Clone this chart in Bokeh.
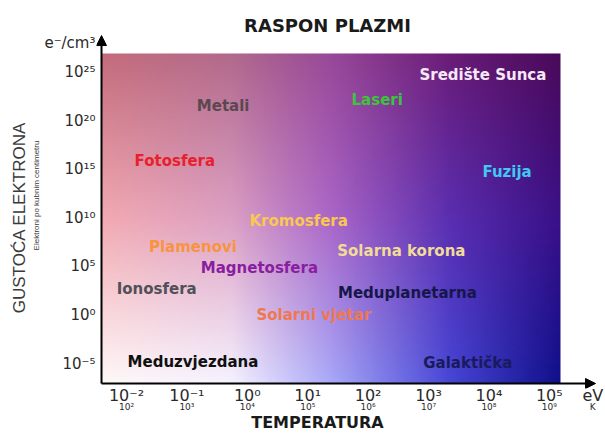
import numpy as np
from bokeh.plotting import figure
from bokeh.models import (Range1d, FixedTicker, LinearAxis, Arrow,
                          NormalHead, ColumnDataSource)
from bokeh.core.properties import value
from bokeh.embed import file_html
from bokeh.resources import INLINE

# ---------------- data ----------------
# temperature axis (log10 eV) and its labels
temp_ticks = [-2, -1, 0, 1, 2, 3, 4, 5]
ev_labels = ["10⁻²", "10⁻¹", "10⁰", "10¹", "10²", "10³", "10⁴", "10⁵"]
k_labels = ["10²", "10³", "10⁴", "10⁵", "10⁶", "10⁷", "10⁸", "10⁹"]
temp_unit_pos = 5.72
temp_unit_ev = "eV"
temp_unit_k = "K"

# density axis (log10 e-/cm3)
dens_ticks = [-5, 0, 5, 10, 15, 20, 25]
dens_labels = ["10⁻⁵", "10⁰", "10⁵", "10¹⁰", "10¹⁵", "10²⁰", "10²⁵"]
dens_unit_pos = 28.09
dens_unit = "e⁻/cm³"

# plasma types: (log10 T [eV], log10 n [e-/cm3])
plasma_names = ["Središte Sunca", "Laseri", "Metali", "Fotosfera", "Fuzija",
                "Kromosfera", "Plamenovi", "Solarna korona", "Magnetosfera",
                "Ionosfera", "Meduplanetarna", "Solarni vjetar",
                "Meduzvjezdana", "Galaktička"]
plasma_log_temp = [3.9, 2.15, -0.4, -1.2, 4.3, 0.85, -0.9, 2.55, 0.2,
                   -1.5, 2.65, 1.1, -0.9, 3.65]
plasma_log_dens = [24.7, 22.2, 21.5, 15.9, 14.7, 9.7, 7.0, 6.55, 4.8,
                   2.7, 2.3, 0.05, -4.8, -4.9]
plasma_colors = ["#f6e8f6", "#3cc43c", "#5a4850", "#e8202c", "#40c8f2",
                 "#f8c850", "#f89440", "#f0dc98", "#8a1ea0", "#505058",
                 "#16164a", "#f07850", "#101010", "#1a1a5c"]

title_text = "RASPON PLAZMI"
title_pos = 1.328
x_title = "TEMPERATURA"
x_title_pos = 1.162
y_title = "GUSTOĆA ELEKTRONA"
y_title_pos = 10.05
y_subtitle = "Elektroni po kubnim centimetru"
y_subtitle_pos = 12.32

# ---------------- layout / style ----------------
X0, Y0 = -2.414, -7.06          # axis origin
X_GRAD_END, Y_GRAD_END = 5.185, 26.96
X_ARROW_END, Y_ARROW_END = 5.765, 28.81

p = figure(width=605, height=434,
           x_range=Range1d(-2.497, 5.930), y_range=Range1d(-7.577, 29.02),
           output_backend="svg", toolbar_location=None,
           x_axis_location=None, y_axis_location=None,
           min_border_left=96, min_border_right=0,
           min_border_top=33, min_border_bottom=46,
           outline_line_color=None, background_fill_color="white")
p.xgrid.visible = False
p.ygrid.visible = False

# background gradient
def hex_rgb(h):
    return [int(h[i:i + 2], 16) for i in (1, 3, 5)]

col_pos = [0.0, 0.28, 0.5, 0.76, 1.0]
row_pos = [0.0, 0.5, 1.0]
rows = [
    ["#fff8f8", "#f6f2ff", "#a8a8f8", "#4646d6", "#10108a"],
    ["#f2aab2", "#dca0c4", "#aa66c8", "#5a2eb0", "#3a1088"],
    ["#c46c7c", "#b26a8c", "#984898", "#6a1c78", "#4a0a5a"],
]
nx, ny = 240, 180
u = np.linspace(0, 1, nx)
t = np.linspace(0, 1, ny)
row_rgb = []
for r in rows:
    cols = np.array([hex_rgb(c) for c in r], dtype=float)
    row_rgb.append(np.stack([np.interp(u, col_pos, cols[:, k]) for k in range(3)], axis=-1))
row_rgb = np.array(row_rgb)  # (3, nx, 3)
img = np.zeros((ny, nx, 4), dtype=np.uint8)
for k in range(3):
    for i in range(nx):
        img[:, i, k] = np.interp(t, row_pos, row_rgb[:, i, k]).astype(np.uint8)
img[:, :, 3] = 255
img32 = img.view(dtype=np.uint32).reshape((ny, nx))
p.image_rgba(image=[img32], x=X0, y=Y0, dw=X_GRAD_END - X0, dh=Y_GRAD_END - Y0)

# axes (labels only)
def label_axis(ticks, labels, font, size, standoff, style="normal",
               color="#2a2a2a", orientation="horizontal"):
    return LinearAxis(ticker=FixedTicker(ticks=list(ticks)),
                      major_label_overrides={v: l for v, l in zip(ticks, labels)},
                      major_label_standoff=standoff,
                      major_label_text_font=font,
                      major_label_text_font_size=size,
                      major_label_text_font_style=style,
                      major_label_text_color=color,
                      major_label_orientation=orientation,
                      axis_line_color=None, major_tick_line_color=None,
                      minor_tick_line_color=None, major_tick_in=0, major_tick_out=0)

sans = "Liberation Sans"
# below: eV row, K row, axis title
p.add_layout(label_axis(temp_ticks + [temp_unit_pos], ev_labels + [temp_unit_ev],
                        "DejaVu Sans", "16px", -3), "below")
p.add_layout(label_axis(temp_ticks + [temp_unit_pos], k_labels + [temp_unit_k],
                        "DejaVu Sans", "9px", -6), "below")
p.add_layout(label_axis([x_title_pos], [x_title], "DejaVu Sans", "16px", -2,
                        style="bold", color="#1a1a1a"), "below")
# left: density ticks, subtitle, axis title
p.add_layout(label_axis(dens_ticks + [dens_unit_pos], dens_labels + [dens_unit],
                        "DejaVu Sans", "15px", 1), "left")
p.add_layout(label_axis([y_subtitle_pos], [y_subtitle], sans, "8px", 0,
                        color="#3a3a3a", orientation="vertical"), "left")
p.add_layout(label_axis([y_title_pos], [y_title], sans, "17px", 0,
                        color="#3a3a3a", orientation="vertical"), "left")
# above: chart title
p.add_layout(label_axis([title_pos], [title_text], "DejaVu Sans", "18px", -2,
                        style="bold", color="#1a1a1a"), "above")

# axis arrows
p.add_layout(Arrow(end=NormalHead(size=10, fill_color="black", line_color="black"),
                   x_start=X0, y_start=Y0, x_end=X0, y_end=Y_ARROW_END,
                   line_width=2, line_color="black"))
p.add_layout(Arrow(end=NormalHead(size=10, fill_color="black", line_color="black"),
                   x_start=X0, y_start=Y0, x_end=X_ARROW_END, y_end=Y0,
                   line_width=2, line_color="black"))

# plasma labels
src = ColumnDataSource(dict(x=plasma_log_temp, y=plasma_log_dens,
                            name=plasma_names, color=plasma_colors))
p.text(x="x", y="y", text="name", source=src, text_color="color",
       text_font=value("DejaVu Sans"), text_font_style="bold",
       text_font_size="15px", text_align="center", text_baseline="middle")

open("out.html", "w").write(file_html(p, INLINE))
